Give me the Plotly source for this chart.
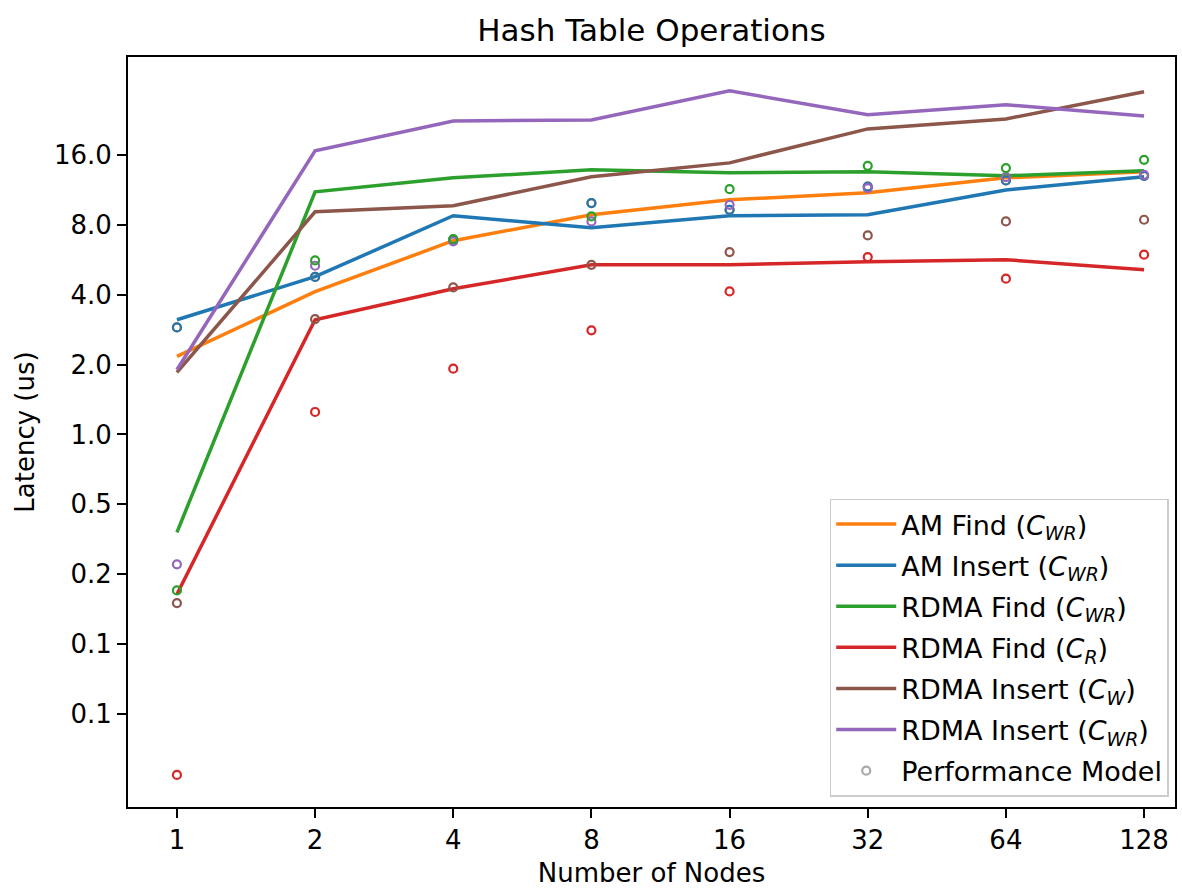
import plotly.graph_objects as go

nodes = [1, 2, 4, 8, 16, 32, 64, 128]
x_ticktext = ["1", "2", "4", "8", "16", "32", "64", "128"]

y_tickvals = [16, 8, 4, 2, 1, 0.5, 0.25, 0.125, 0.0625]
y_ticktext = ["16.0", "8.0", "4.0", "2.0", "1.0", "0.5", "0.2", "0.1", "0.1"]

# measured latencies (us)
am_find_cwr = [2.17, 4.12, 6.83, 8.83, 10.25, 10.98, 12.74, 13.52]
am_insert_cwr = [3.12, 4.78, 8.75, 7.77, 8.75, 8.83, 11.3, 12.87]
rdma_find_cwr = [0.379, 11.09, 12.74, 13.8, 13.39, 13.52, 13.0, 13.66]
rdma_find_cr = [0.205, 3.12, 4.24, 5.38, 5.38, 5.55, 5.66, 5.12]
rdma_insert_cw = [1.85, 9.1, 9.66, 12.87, 14.78, 20.7, 22.85, 29.9]
rdma_insert_cwr = [1.90, 16.65, 22.4, 22.6, 30.2, 23.8, 26.3, 23.5]

# performance model (us)
model_am_find_cwr = [2.89, 4.77, 6.9, 9.92, 9.28, 11.69, 12.41, 13.0]
model_am_insert_cwr = [2.89, 4.77, 6.9, 9.92, 9.28, 11.69, 12.41, 13.0]
model_rdma_find_cwr = [0.213, 5.62, 6.94, 8.69, 11.39, 14.35, 14.03, 15.23]
model_rdma_find_cr = [0.0342, 1.25, 1.92, 2.81, 4.13, 5.81, 4.69, 5.95]
model_rdma_insert_cw = [0.188, 3.14, 4.30, 5.38, 6.10, 7.2, 8.27, 8.41]
model_rdma_insert_cwr = [0.276, 5.33, 6.78, 8.27, 9.75, 11.5, 12.83, 13.13]

series = [
    ("AM Find (<i>C<sub>WR</sub></i>)", am_find_cwr, model_am_find_cwr, "#ff7f0e"),
    ("AM Insert (<i>C<sub>WR</sub></i>)", am_insert_cwr, model_am_insert_cwr, "#1f77b4"),
    ("RDMA Find (<i>C<sub>WR</sub></i>)", rdma_find_cwr, model_rdma_find_cwr, "#2ca02c"),
    ("RDMA Find (<i>C<sub>R</sub></i>)", rdma_find_cr, model_rdma_find_cr, "#d62728"),
    ("RDMA Insert (<i>C<sub>W</sub></i>)", rdma_insert_cw, model_rdma_insert_cw, "#8c564b"),
    ("RDMA Insert (<i>C<sub>WR</sub></i>)", rdma_insert_cwr, model_rdma_insert_cwr, "#9467bd"),
]

fig = go.Figure()

for i, (name, vals, _, color) in enumerate(series):
    fig.add_trace(go.Scatter(
        x=nodes, y=vals, mode="lines", name=name,
        line=dict(color=color, width=3.5),
        legendgroup=f"g{i}", showlegend=True,
    ))

# model markers (drawn on top); order to mimic overlap
marker_order = [0, 1, 5, 4, 3, 2]
for i in marker_order:
    name, _, model, color = series[i]
    fig.add_trace(go.Scatter(
        x=nodes, y=model, mode="markers", showlegend=False,
        marker=dict(symbol="circle-open", size=8, color=color, line=dict(width=2.2, color=color)),
        legendgroup=f"g{i}",
    ))

fig.add_trace(go.Scatter(
    x=[None], y=[None], mode="markers", name="Performance Model",
    marker=dict(symbol="circle-open", size=8, color="#aaaaaa", line=dict(width=2.2, color="#aaaaaa")),
    legendgroup="gm", showlegend=True,
))

font_family = "DejaVu Sans"
fig.update_layout(
    width=1182, height=888,
    margin=dict(l=128, r=5, t=57, b=80),
    paper_bgcolor="white", plot_bgcolor="white",
    font=dict(family=font_family, size=26, color="black"),
    title=dict(text="Hash Table Operations", x=0.5, xref="paper", xanchor="center",
               y=1 - 30 / 888, yanchor="middle", font=dict(size=31)),
    xaxis=dict(
        type="log", range=[-0.1066, 2.1746],
        tickvals=nodes, ticktext=x_ticktext,
        showgrid=False, zeroline=False,
        showline=True, linecolor="black", linewidth=2, mirror=True,
        ticks="outside", ticklen=9, tickwidth=2, tickcolor="black",
        title=dict(text="Number of Nodes", font=dict(size=26), standoff=10),
        tickfont=dict(size=26),
    ),
    yaxis=dict(
        type="log", range=[-1.6042, 1.6256],
        tickvals=y_tickvals, ticktext=y_ticktext,
        showgrid=False, zeroline=False,
        showline=True, linecolor="black", linewidth=2, mirror=True,
        ticks="outside", ticklen=9, tickwidth=2, tickcolor="black",
        title=dict(text="Latency (us)", font=dict(size=26), standoff=12),
        tickfont=dict(size=26),
    ),
    legend=dict(
        x=0.994, y=0.014, xanchor="right", yanchor="bottom",
        bgcolor="rgba(255,255,255,0.8)", bordercolor="#cccccc", borderwidth=1.5,
        font=dict(size=27), tracegroupgap=3, traceorder="grouped",
        itemwidth=60,
    ),
)

fig.write_html("out.html")
